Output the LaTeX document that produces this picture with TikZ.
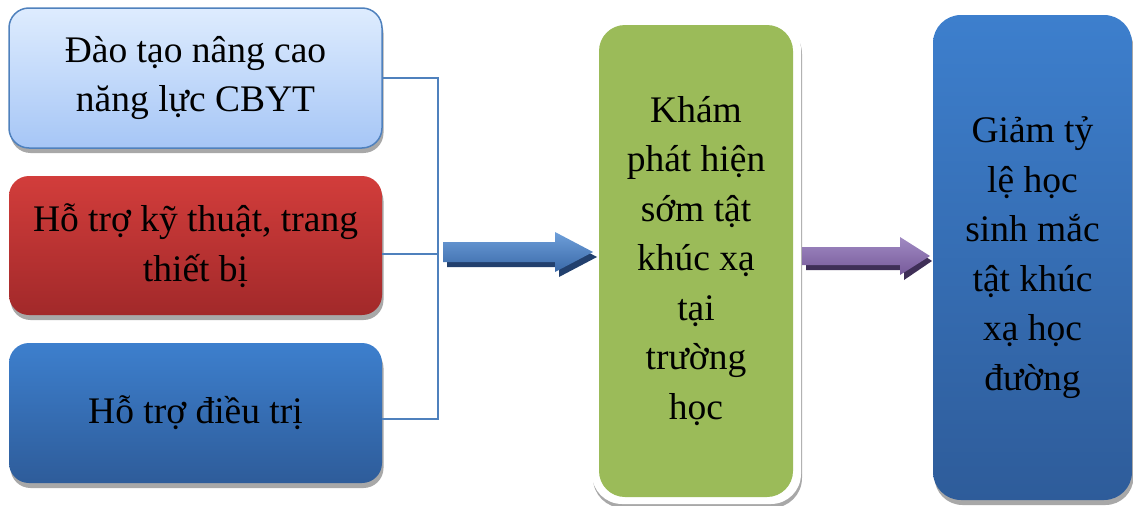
\documentclass[tikz,border=0pt]{standalone}
\usepackage{fontspec}
\setmainfont{Liberation Serif}
\usetikzlibrary{shadows,calc}

\definecolor{lineblue}{HTML}{4F81BD}
\definecolor{paleTop}{HTML}{DEECFE}
\definecolor{paleBot}{HTML}{A6C6F6}
\definecolor{redTop}{HTML}{D23D3B}
\definecolor{redBot}{HTML}{A2292A}
\definecolor{blueTop}{HTML}{3D7FCD}
\definecolor{blueBot}{HTML}{2E5C9A}
\definecolor{leafgreen}{HTML}{9BBB59}
\definecolor{arrTop}{HTML}{6E9FDA}
\definecolor{arrBot}{HTML}{3A69A8}
\definecolor{arrShade}{HTML}{22406E}
\definecolor{purTop}{HTML}{A08AC2}
\definecolor{purBot}{HTML}{775A9B}
\definecolor{purShade}{HTML}{3F2F57}
\definecolor{shadowgray}{HTML}{A8A8A8}

\tikzset{
  txt/.style={font=\fontsize{37.5}{49.5}\selectfont, align=center, text=black},
  leftbox/.style={txt, rounded corners=20pt, minimum width=373pt, inner sep=0pt,
    drop shadow={shadow xshift=1.5pt, shadow yshift=-5pt, fill=shadowgray, opacity=1}},
  link/.style={draw=lineblue, line width=2pt},
}

\begin{document}
\begin{tikzpicture}[x=1pt,y=-1pt]
\useasboundingbox (0,0) rectangle (1133,506);

% input boxes on the left
\node[leftbox, minimum height=140pt, top color=paleTop, bottom color=paleBot,
      draw=lineblue, line width=1.5pt] (b1) at (195.5,78) {Đào tạo nâng cao\\năng lực CBYT};
\node[leftbox, minimum height=139pt, top color=redTop, bottom color=redBot] (b2)
      at (195.5,245.5) {Hỗ trợ kỹ thuật, trang\\thiết bị};
\node[leftbox, minimum height=140pt, top color=blueTop, bottom color=blueBot] (b3)
      at (195.5,413) {Hỗ trợ điều trị};

% bracket joining the three inputs
\coordinate (jt) at (438,78);
\coordinate (jb) at (438,419);
\draw[link] (b1.east) -- (jt) -- (jb) -- ([yshift=-6pt]b3.east);
\draw[link] ([yshift=-8.5pt]b2.east) -- ([yshift=-8.5pt]b2.east -| jt);

% middle step: white rim with shadow, green face
\node[rounded corners=30pt, fill=white, minimum width=209pt, minimum height=484pt,
      drop shadow={shadow xshift=1pt, shadow yshift=-4pt, fill=shadowgray, opacity=1}]
      (rim) at (696.5,262) {};
\node[txt, rounded corners=26pt, fill=leafgreen, minimum width=194pt, minimum height=472pt]
      (mid) at (696,261) {Khám\\phát hiện\\sớm tật\\khúc xạ\\tại\\trường\\học};

% outcome box
\node[txt, rounded corners=28pt, minimum width=199pt, minimum height=485pt,
      top color=blueTop, bottom color=blueBot,
      drop shadow={shadow xshift=1.5pt, shadow yshift=-5pt, fill=shadowgray, opacity=1}]
      (out) at (1032.5,257.5) {Giảm tỷ\\lệ học\\sinh mắc\\tật khúc\\xạ học\\đường};

% block arrow from the inputs to the middle step
\fill[arrShade] (447,247) -- (559,247) -- (559,237) -- (597,257) -- (559,277)
      -- (559,267) -- (447,267) -- cycle;
\shade[top color=arrTop, bottom color=arrBot] (443,242) -- (555,242) -- (555,232)
      -- (593,252) -- (555,272) -- (555,262) -- (443,262) -- cycle;

% block arrow from the middle step to the outcome
\fill[purShade] (806,252) -- (904,252) -- (904,242) -- (932,261) -- (904,280)
      -- (904,270) -- (806,270) -- cycle;
\shade[top color=purTop, bottom color=purBot] (802,247) -- (900,247) -- (900,237)
      -- (930,256) -- (900,275) -- (900,265) -- (802,265) -- cycle;
\end{tikzpicture}
\end{document}
